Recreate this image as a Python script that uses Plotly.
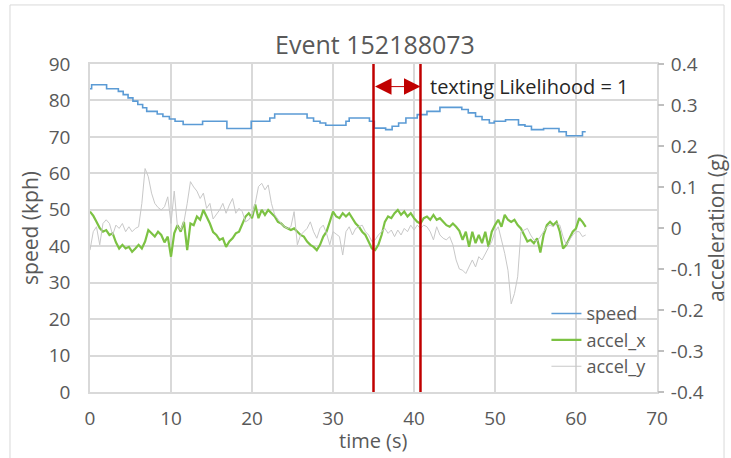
import plotly.graph_objects as go

# ---------------- data ----------------
# speed (kph): step breakpoints (time s, value)
speed_t = [0, 0.2, 2.05, 3.5, 4.1, 4.7, 5.3, 5.9, 6.5, 7.0, 8.3, 9.0, 9.8, 10.5, 11.5,
           13.9, 16.9, 19.9, 22.2, 22.8, 26.8, 27.6, 28.4, 29.1, 31.6, 32.0, 34.5, 35.1,
           36.5, 37.3, 38.1, 39.0, 40.4, 41.6, 43.2, 45.9, 46.7, 47.6, 48.4, 49.3, 49.9,
           51.3, 52.9, 53.7, 54.5, 56.0, 57.9, 58.8, 60.8, 61.2]
speed = [83.2, 84.3, 83.2, 82.5, 81.6, 80.7, 79.8, 78.9, 78.0, 77.0, 76.3, 75.6, 74.9, 74.3, 73.4,
         74.3, 72.3, 74.3, 75.2, 76.3, 75.2, 74.3, 73.8, 73.2, 74.3, 75.2, 74.3, 72.4,
         72.0, 72.9, 73.8, 75.2, 76.1, 77.0, 78.1, 77.5, 76.6, 75.6, 74.7, 73.8, 74.3,
         74.7, 73.3, 72.9, 72.0, 72.3, 71.4, 70.3, 71.4, 71.4]

# accelerations (g), sampled every 0.4 s
accel_x = [0.040, 0.030, 0.015, 0.000, -0.009, -0.005, -0.017, -0.013, -0.035, -0.050,
           -0.041, -0.050, -0.046, -0.058, -0.050, -0.041, -0.050, -0.033, -0.005, -0.013,
           -0.021, -0.009, -0.017, -0.035, -0.021, -0.070, -0.013, 0.007, -0.009, 0.015,
           -0.054, 0.011, 0.007, 0.028, 0.020, 0.044, 0.028, 0.011,
           -0.010,
           -0.017, -0.029, -0.025, -0.046, -0.033, -0.025, -0.013, -0.009, 0.011, 0.028, 0.036,
           0.024, 0.057, 0.024, 0.044, 0.032, 0.044, 0.036, 0.028, 0.015, 0.011,
           0.003, -0.001, -0.005, -0.001, -0.009, -0.017, -0.021, -0.033, -0.041, -0.046,
           -0.054, -0.041, -0.021, -0.009, 0.015, 0.040,
           0.028, 0.024, 0.036, 0.028, 0.036, 0.024, 0.011, 0.003, -0.009, -0.017,
           -0.033, -0.050, -0.054, -0.041, -0.017, 0.015, 0.028, 0.024, 0.036, 0.044,
           0.032, 0.040, 0.028, 0.036, 0.024, 0.015, 0.011, 0.024, 0.028, 0.020,
           0.032, 0.020, 0.024, 0.015, 0.007, 0.003, 0.011, 0.003, -0.007, -0.029,
           -0.009, -0.046, -0.009, -0.037, -0.017, -0.037, -0.009, -0.046, -0.009, 0.007,
           0.020, 0.003, 0.032, 0.020, 0.015, 0.020, 0.007, -0.001, -0.017, -0.033,
           -0.029, -0.037, -0.025, -0.060, -0.017, 0.007, 0.015, 0.007, 0.015, -0.009,
           -0.050, -0.041, -0.025, -0.009, -0.001, 0.024, 0.015, 0.003]
accel_y = [-0.054, -0.009, 0.003, -0.041, 0.011, 0.020, 0.011, -0.017, 0.007, -0.001,
           0.011, -0.009, 0.003, -0.009, -0.001, 0.003, 0.060, 0.145, 0.125, 0.085,
           0.060, 0.050, 0.044, 0.052, 0.076, 0.011, 0.090, 0.003, -0.005, 0.015,
           0.060, 0.113, 0.100, 0.090, 0.072, 0.085, 0.048, 0.060,
           0.022,
           0.032, 0.044, 0.060, 0.036, 0.056, 0.072, 0.036, 0.048, 0.040, 0.015, 0.020,
           0.032, 0.060, 0.101, 0.109, 0.093, 0.105, 0.060, 0.032, 0.020, 0.011,
           0.003, -0.001, 0.003, 0.040, -0.041, -0.017, -0.009, -0.001, 0.015, -0.009,
           -0.025, -0.001, 0.007, -0.013, -0.041, -0.009,
           -0.015, -0.021, -0.066, -0.009, 0.003, -0.017, -0.001, 0.003, 0.007, -0.009,
           -0.017, -0.033, -0.029, -0.017, -0.009, -0.001, -0.013, -0.005, -0.021, -0.005,
           -0.017, -0.001, -0.009, 0.007, -0.005, 0.007, -0.001, 0.007, 0.003, -0.009,
           -0.029, 0.003, -0.017, -0.025, -0.029, -0.021, -0.041, -0.078, -0.100, -0.103,
           -0.111, -0.095, -0.078, -0.095, -0.070, -0.078, -0.062, -0.050, -0.033, -0.009,
           0.003, -0.029, -0.062, -0.103, -0.185, -0.160, -0.119, -0.009, -0.005, -0.001,
           -0.017, -0.029, -0.033, -0.021, -0.009, 0.003, 0.007, 0.003, 0.011, 0.007,
           -0.021, -0.041, -0.029, -0.017, -0.009, -0.009, -0.021, -0.017]
accel_dt = 0.4
accel_t = [round(accel_dt * i, 1) for i in range(len(accel_x))]

texting_window = [35.0, 40.8]   # seconds
arrow_level = 83.8              # kph
likelihood_label = "texting Likelihood = 1"

left_ticks = list(range(0, 91, 10))
right_ticks = [-0.4, -0.3, -0.2, -0.1, 0, 0.1, 0.2, 0.3, 0.4]
right_ticktext = ["-0.4", "-0.3", "-0.2", "-0.1", "0", "0.1", "0.2", "0.3", "0.4"]

# ---------------- figure ----------------
FONT = "Open Sans"
GREY = "#595959"
GRID = "#D9D9D9"

fig = go.Figure()
fig.add_trace(go.Scatter(x=speed_t, y=speed, name="speed", mode="lines",
                         line=dict(color="#5B9BD5", width=1.6, shape="hv"), yaxis="y"))
fig.add_trace(go.Scatter(x=accel_t, y=accel_x, name="accel_x", mode="lines",
                         line=dict(color="#7CC243", width=2.2), yaxis="y2"))
fig.add_trace(go.Scatter(x=accel_t, y=accel_y, name="accel_y", mode="lines",
                         line=dict(color="#C8C8C8", width=1), yaxis="y2"))

for tx in texting_window:
    fig.add_shape(type="line", xref="x", yref="paper", x0=tx, x1=tx, y0=0, y1=1,
                  line=dict(color="#C00000", width=2.5), layer="above")

# outer chart border
fig.add_shape(type="rect", xref="paper", yref="paper", x0=-0.1411, x1=1.1182,
              y0=-0.25, y1=1.18, line=dict(color=GRID, width=1), layer="below")

annotations = [
    dict(x=texting_window[1], y=arrow_level, ax=texting_window[0], ay=arrow_level,
         xref="x", yref="y", axref="x", ayref="y", text="", showarrow=True,
         arrowhead=2, startarrowhead=2, arrowside="end+start", arrowsize=3.3,
         startarrowsize=3.3, arrowwidth=1, arrowcolor="#C00000", standoff=0, startstandoff=0),
    dict(x=texting_window[1], y=arrow_level, xref="x", yref="y", xshift=8,
         text=likelihood_label, showarrow=False, xanchor="left", yanchor="middle",
         font=dict(family=FONT, size=20, color="#262626")),
    dict(x=0.5, y=-0.149, xref="paper", yref="paper", text="time (s)", showarrow=False,
         xanchor="center", yanchor="middle", font=dict(family=FONT, size=20, color=GREY)),
    dict(x=-0.106, y=0.5, xref="paper", yref="paper", text="speed (kph)", showarrow=False,
         textangle=-90, xanchor="center", yanchor="middle",
         font=dict(family=FONT, size=21, color=GREY)),
    dict(x=1.104, y=0.5, xref="paper", yref="paper", text="acceleration (g)", showarrow=False,
         textangle=-90, xanchor="center", yanchor="middle",
         font=dict(family=FONT, size=21, color=GREY)),
]

fig.update_layout(
    width=731, height=458,
    margin=dict(l=90, r=74, t=64, b=66),
    paper_bgcolor="white", plot_bgcolor="white",
    title=dict(text="Event 152188073", x=0.513, xanchor="center", xref="container",
               y=1 - 45 / 458, yref="container", yanchor="middle",
               font=dict(family=FONT, size=25, color=GREY)),
    font=dict(family=FONT, color=GREY),
    showlegend=True,
    legend=dict(x=0.805, y=0.295, xanchor="left", yanchor="top", bgcolor="rgba(0,0,0,0)",
                font=dict(family=FONT, size=18, color=GREY), tracegroupgap=0),
    xaxis=dict(range=[0, 70], tickvals=list(range(0, 71, 10)), showgrid=True,
               gridcolor=GRID, gridwidth=1.5, zeroline=False, showline=True, mirror=True,
               linecolor=GRID, linewidth=1.5, ticks="", tickfont=dict(size=19, color=GREY),
               ticklabelstandoff=8),
    yaxis=dict(range=[0, 90], tickvals=left_ticks, showgrid=True, gridcolor=GRID,
               gridwidth=1.5, zeroline=False, showline=True, mirror=True, linecolor=GRID,
               linewidth=1.5, ticks="", tickfont=dict(size=19, color=GREY),
               ticklabelstandoff=14),
    yaxis2=dict(range=[-0.4, 0.4], tickvals=right_ticks, ticktext=right_ticktext,
                overlaying="y", side="right", showgrid=False, zeroline=False,
                showline=False, ticks="outside", ticklen=6, tickcolor="#BFBFBF",
                tickwidth=1.5, tickfont=dict(size=19, color=GREY), ticklabelstandoff=3),
    annotations=annotations,
)

fig.write_html("out.html",
               config={"displayModeBar": False},
               post_script="document.body.style.margin='0px';"
                           "document.body.style.overflow='hidden';")
